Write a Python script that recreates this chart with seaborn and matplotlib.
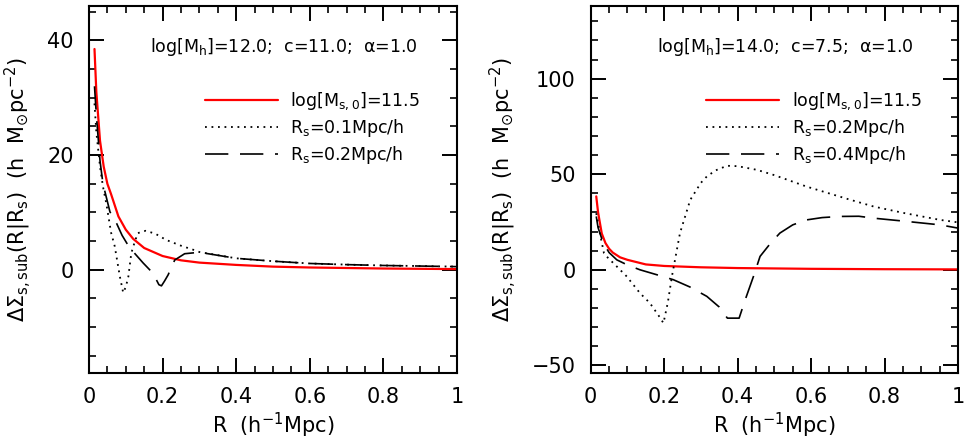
import numpy as np
import pandas as pd
import seaborn as sns
import matplotlib.pyplot as plt
from matplotlib.ticker import MultipleLocator, FuncFormatter

# ---- left panel: log[Mh]=12.0, c=11.0 ----
r_red_l = [0.015, 0.02, 0.03, 0.04, 0.05, 0.06, 0.08, 0.1, 0.12, 0.15, 0.2, 0.25, 0.3, 0.4, 0.5, 0.6, 0.8, 1.0]
red_l = [38.5, 31, 22.5, 18, 15, 13.2, 9.3, 7.0, 5.4, 3.8, 2.4, 1.65, 1.25, 0.85, 0.55, 0.4, 0.22, 0.12]

r_dot_l = [0.015, 0.02, 0.03, 0.038, 0.047, 0.06, 0.07, 0.084, 0.093, 0.1, 0.107, 0.115, 0.125, 0.133,
           0.154, 0.18, 0.21, 0.25, 0.283, 0.3, 0.4, 0.5, 0.6, 0.7, 0.8, 0.9, 1.0]
dot_l = [29, 24, 18, 14.5, 11.6, 6.5, 4.1, -1.2, -4.0, -3.0, -1.2, 2.9, 5.0, 6.4,
         6.8, 6.3, 5.2, 4.2, 3.5, 3.1, 2.0, 1.5, 1.1, 0.9, 0.75, 0.65, 0.55]

r_dash_l = [0.015, 0.02, 0.03, 0.038, 0.057, 0.075, 0.09, 0.106, 0.125, 0.147, 0.174, 0.19, 0.197,
            0.205, 0.215, 0.233, 0.26, 0.3, 0.4, 0.5, 0.6, 0.7, 0.8, 0.9, 1.0]
dash_l = [32, 27, 19, 15, 10.1, 8.1, 6.0, 4.3, 2.8, 1.2, -0.6, -2.6, -2.8,
          -2.0, -0.9, 1.7, 2.8, 3.05, 2.0, 1.5, 1.1, 0.9, 0.75, 0.65, 0.55]

# ---- right panel: log[Mh]=14.0, c=7.5 ----
r_red_r = [0.015, 0.02, 0.03, 0.04, 0.05, 0.06, 0.08, 0.1, 0.15, 0.2, 0.3, 0.4, 0.6, 0.8, 1.0]
red_r = [38.4, 30, 19, 14, 11, 9, 6.5, 5.2, 2.8, 2.0, 1.3, 0.9, 0.5, 0.3, 0.2]

r_dot_r = [0.015, 0.025, 0.036, 0.043, 0.071, 0.098, 0.134, 0.161, 0.185, 0.198, 0.21, 0.221, 0.243,
           0.271, 0.3, 0.316, 0.34, 0.371, 0.4, 0.452, 0.5, 0.588, 0.7, 0.77, 0.85, 0.951, 1.0]
dot_r = [29.6, 19, 8.7, 7.0, 1.7, -3.5, -12.2, -17.4, -24, -27.9, -17, -3.5, 19.2,
         36.6, 45.5, 48.8, 52, 54.4, 54.2, 52.3, 49.5, 43.5, 37, 33.1, 29.8, 26.1, 24.8]

r_dash_r = [0.015, 0.02, 0.034, 0.05, 0.071, 0.1, 0.134, 0.18, 0.225, 0.27, 0.316, 0.35, 0.372, 0.404,
            0.42, 0.443, 0.461, 0.49, 0.515, 0.55, 0.588, 0.63, 0.679, 0.73, 0.77, 0.85, 0.951, 1.0]
dash_r = [27.9, 22, 14, 9, 5.2, 2.5, 0, -2.6, -5.2, -9, -13.9, -19.5, -25.3, -25.3,
          -16, -3.5, 7, 14, 19.2, 23.5, 26.1, 27.3, 27.9, 28, 27, 25.5, 23.5, 21.8]

notes = [r'log[M$_{h}$]=12.0;  c=11.0;  α=1.0', r'log[M$_{h}$]=14.0;  c=7.5;  α=1.0']
lab_red = r'log[M$_{s,0}$]=11.5'
lab_dot = [r'R$_{s}$=0.1Mpc/h', r'R$_{s}$=0.2Mpc/h']
lab_dash = [r'R$_{s}$=0.2Mpc/h', r'R$_{s}$=0.4Mpc/h']

sns.set_style('ticks')
plt.rcParams['font.family'] = ['DejaVu Sans']
plt.rcParams['mathtext.default'] = 'regular'
for k in ['text.color', 'axes.labelcolor', 'xtick.color', 'ytick.color', 'axes.edgecolor']:
    plt.rcParams[k] = 'black'

fig = plt.figure(figsize=(9.64, 4.43), dpi=100)
ax_l = fig.add_axes([0.0923, 0.158, 0.3817, 0.8285])
ax_r = fig.add_axes([0.6128, 0.158, 0.381, 0.8285])

panels = [
    (ax_l, r_red_l, red_l, r_dot_l, dot_l, r_dash_l, dash_l, (-18, 46), 20, 5),
    (ax_r, r_red_r, red_r, r_dot_r, dot_r, r_dash_r, dash_r, (-54, 138), 50, 10),
]

for i, (ax, xr, yr, xd, yd, xs, ys, ylim, ymaj, ymin) in enumerate(panels):
    sns.lineplot(x=xr, y=yr, ax=ax, color='#ff0000', lw=1.6, label=lab_red)
    sns.lineplot(x=xd, y=yd, ax=ax, color='black', lw=1.3, linestyle=(0, (1, 2.6)), label=lab_dot[i])
    sns.lineplot(x=xs, y=ys, ax=ax, color='black', lw=1.2, linestyle=(0, (14, 7)), label=lab_dash[i])

    ax.set_xlim(0, 1)
    ax.set_ylim(*ylim)
    ax.xaxis.set_major_locator(MultipleLocator(0.2))
    ax.xaxis.set_minor_locator(MultipleLocator(0.05))
    ax.yaxis.set_major_locator(MultipleLocator(ymaj))
    ax.yaxis.set_minor_locator(MultipleLocator(ymin))
    ax.xaxis.set_major_formatter(FuncFormatter(lambda v, p: '%g' % round(v, 2)))
    ax.tick_params(which='both', direction='in', top=True, right=True, labelsize=15)
    ax.tick_params(which='major', length=10.5, width=1.4)
    ax.tick_params(which='minor', length=5, width=1.2)
    ax.tick_params(axis='y', pad=11)
    ax.tick_params(axis='x', pad=10)
    for s in ax.spines.values():
        s.set_linewidth(1.5)

    ax.set_xlabel(r'R  (h$^{-1}$Mpc)', fontsize=15, labelpad=3)
    ax.set_ylabel(r'$\Delta\Sigma_{s,sub}$(R|R$_{s}$)  (h  M$_{\odot}$pc$^{-2}$)', fontsize=15, labelpad=10)

    ax.text(0.53, 0.888, notes[i], transform=ax.transAxes, ha='center', va='center', fontsize=12.5)
    ax.legend(loc='upper left', bbox_to_anchor=(0.315, 0.77), frameon=False, fontsize=12.5,
              handlelength=4.2, handletextpad=0.7, borderpad=0, borderaxespad=0, labelspacing=0.3)

fig.savefig('out.png', dpi=100)
